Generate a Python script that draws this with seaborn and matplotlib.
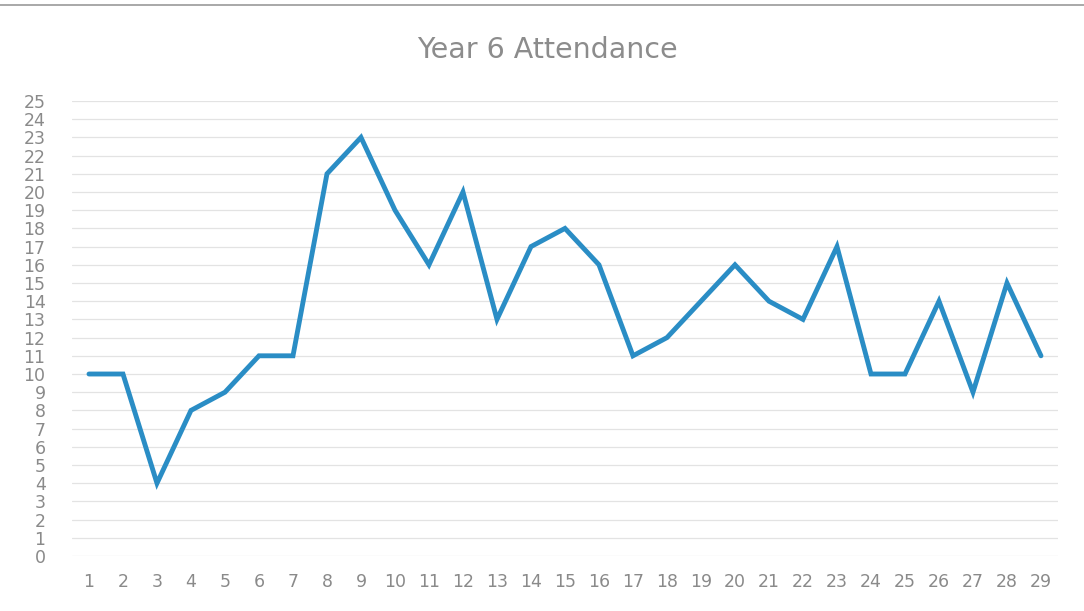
import matplotlib
matplotlib.use("Agg")
import matplotlib.pyplot as plt
import seaborn as sns
import pandas as pd
from matplotlib.lines import Line2D

weeks = list(range(1, 30))
attendance = [10, 10, 4, 8, 9, 11, 11, 21, 23, 19, 16, 20, 13, 17, 18, 16,
              11, 12, 14, 16, 14, 13, 17, 10, 10, 14, 9, 15, 11]
y_ticks = list(range(0, 26))

sns.set_theme(style="white")
plt.rcParams['font.family'] = ['DejaVu Sans']

df = pd.DataFrame({"week": weeks, "attendance": attendance})

fig = plt.figure(figsize=(10.84, 6.11), dpi=100)
ax = fig.add_axes([0.0664, 0.090, 0.9096, 0.7447])

sns.lineplot(data=df, x="week", y="attendance", ax=ax, color="#2a8dc5",
             linewidth=3.5, solid_joinstyle="miter")

ax.set_xlim(0.5, 29.5)
ax.set_ylim(0, 25)
ax.set_xticks(weeks)
ax.set_xticklabels([str(w) for w in weeks])
ax.set_yticks(y_ticks)
ax.set_yticklabels([str(v) for v in y_ticks])
ax.yaxis.grid(True, color="#e3e3e3", linewidth=0.9)
ax.xaxis.grid(False)
for s in ax.spines.values():
    s.set_visible(False)
ax.tick_params(axis="both", length=0, colors="#8a8a8a", labelsize=12.5)
ax.tick_params(axis="y", pad=19)
ax.tick_params(axis="x", pad=12)
ax.set_xlabel("")
ax.set_ylabel("")

fig.text(0.505, 0.918, "Year 6 Attendance", ha="center", va="center",
         fontsize=20.5, color="#8c8c8c")

fig.add_artist(Line2D([0, 1], [0.992, 0.992], transform=fig.transFigure,
                      color="#9a9a9a", linewidth=1.2))

fig.savefig("out.png", dpi=100)
